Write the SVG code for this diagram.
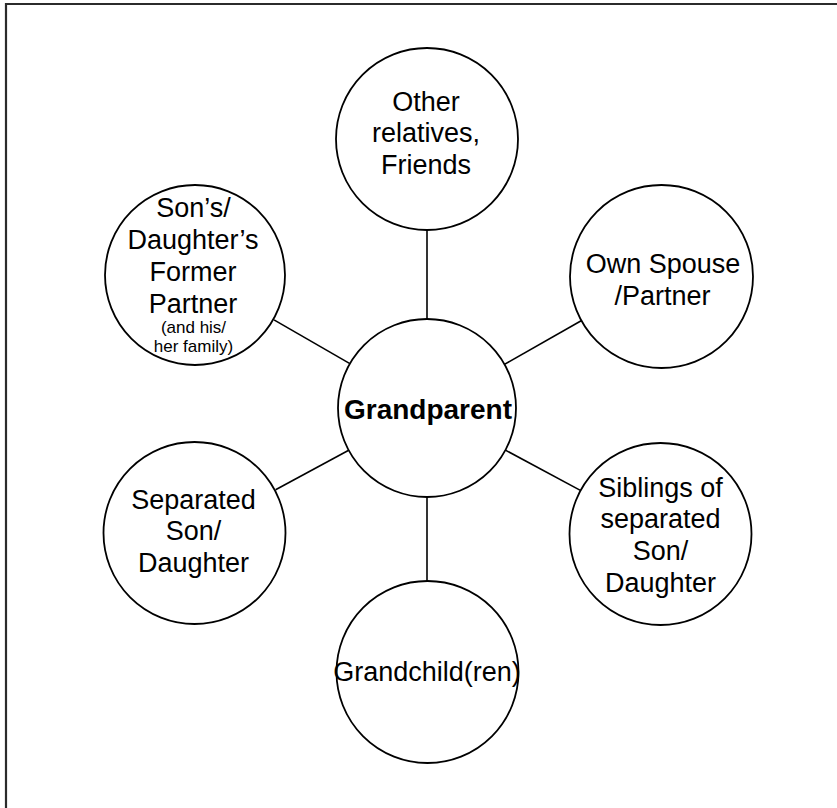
<svg xmlns="http://www.w3.org/2000/svg" width="837" height="808" viewBox="0 0 837 808">
<style>
.node circle{fill:#fff;stroke:#000;stroke-width:1.8}
.t{font-family:"Liberation Sans",Arial,Helvetica,sans-serif;font-size:27px;fill:#000;text-anchor:middle}
.s{font-size:17px}
.b{font-weight:bold;font-size:28px}
.edges line{stroke:#000;stroke-width:1.6}
</style>
<rect width="837" height="808" fill="#fff"/>
<path d="M6 808 V4 H837" fill="none" stroke="#2b2b2b" stroke-width="2.2"/>
<g class="edges" id="connectors">
<line x1="427" y1="319" x2="427" y2="230"/>
<line x1="427" y1="497" x2="427" y2="581"/>
<line x1="504.4" y1="364.4" x2="581.6" y2="320.5"/>
<line x1="349.9" y1="363.6" x2="274" y2="319.9"/>
<line x1="348.7" y1="450.3" x2="275.6" y2="489.8"/>
<line x1="505.4" y1="450.1" x2="581.3" y2="490.9"/>
</g>
<g class="node" id="grandparent">
<circle cx="427" cy="408" r="89"/>
<text class="t b" x="428" y="419">Grandparent</text>
</g>
<g class="node" id="other-relatives">
<circle cx="427" cy="139" r="91"/>
<text class="t" x="426" y="111">Other</text>
<text class="t" x="426" y="142">relatives,</text>
<text class="t" x="426" y="174">Friends</text>
</g>
<g class="node" id="own-spouse">
<circle cx="661.5" cy="276.5" r="91.5"/>
<text class="t" x="663" y="273">Own Spouse</text>
<text class="t" x="662.5" y="305">/Partner</text>
</g>
<g class="node" id="former-partner">
<circle cx="195" cy="275" r="90"/>
<text class="t" x="193.5" y="217">Son’s/</text>
<text class="t" x="193" y="249">Daughter’s</text>
<text class="t" x="193" y="281">Former</text>
<text class="t" x="193" y="313">Partner</text>
<text class="t s" x="193.5" y="333">(and his/</text>
<text class="t s" x="193.5" y="352">her family)</text>
</g>
<g class="node" id="separated-child">
<circle cx="194.5" cy="533" r="91"/>
<text class="t" x="193.5" y="509">Separated</text>
<text class="t" x="193.5" y="540">Son/</text>
<text class="t" x="193.5" y="572">Daughter</text>
</g>
<g class="node" id="siblings">
<circle cx="660.5" cy="534" r="91"/>
<text class="t" x="660.5" y="497">Siblings of</text>
<text class="t" x="660.5" y="528">separated</text>
<text class="t" x="660.5" y="560">Son/</text>
<text class="t" x="660.5" y="592">Daughter</text>
</g>
<g class="node" id="grandchildren">
<circle cx="427.5" cy="672" r="91"/>
<text class="t" x="427" y="681">Grandchild(ren)</text>
</g>
</svg>
